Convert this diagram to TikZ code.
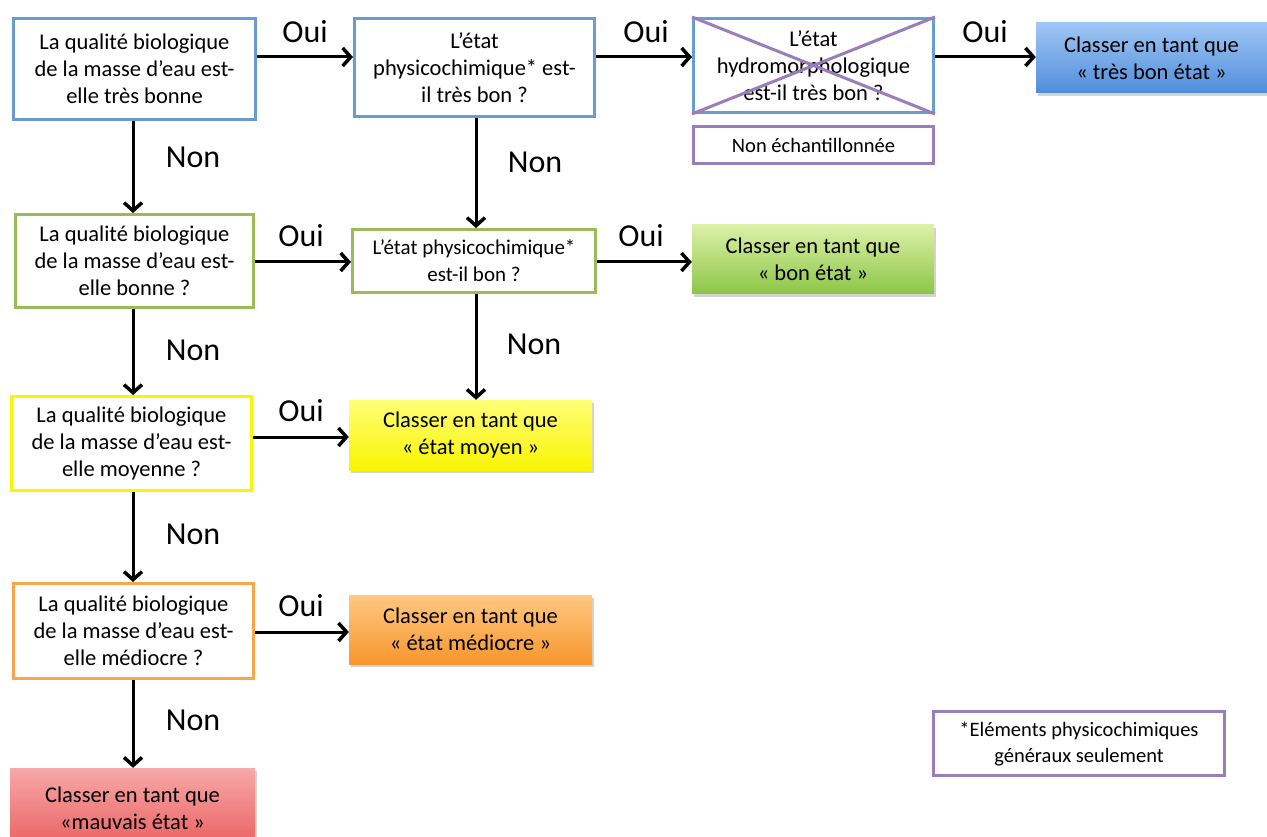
\documentclass[tikz,border=0pt]{standalone}
\usepackage{fontspec}
\setmainfont{Carlito}
\usetikzlibrary{arrows.meta,shadows}
\definecolor{blueline}{RGB}{108,155,207}
\definecolor{greenline}{RGB}{155,187,89}
\definecolor{yellowline}{RGB}{250,245,0}
\definecolor{orangeline}{RGB}{249,165,78}
\definecolor{purpline}{RGB}{154,125,187}
\definecolor{blueTop}{RGB}{160,198,245}
\definecolor{blueBot}{RGB}{80,142,218}
\definecolor{greenTop}{RGB}{221,240,168}
\definecolor{greenBot}{RGB}{140,198,70}
\definecolor{yellowTop}{RGB}{255,255,120}
\definecolor{yellowBot}{RGB}{248,244,0}
\definecolor{orangeTop}{RGB}{255,200,128}
\definecolor{orangeBot}{RGB}{247,150,46}
\definecolor{redTop}{RGB}{248,168,168}
\definecolor{redBot}{RGB}{233,96,96}
\tikzset{
  qbox/.style={draw, line width=3pt, fill=white, align=center, inner sep=0pt,
    font=\fontsize{22.5}{27}\selectfont},
  rbox/.style={align=center, inner sep=0pt, font=\fontsize{22.5}{27}\selectfont,
    drop shadow={shadow xshift=2pt, shadow yshift=-3pt, opacity=0.35}},
  arr/.style={line width=3pt, -{Straight Barb[length=8pt,width=18pt,line width=3.5pt]}},
  lbl/.style={font=\fontsize{32}{36}\selectfont, inner sep=0pt},
}
\begin{document}
\begin{tikzpicture}[x=1pt,y=-1pt]
\useasboundingbox (0,0) rectangle (1267,837);
% y-levels and x-columns for connectors
\coordinate (r1) at (0,57);
\coordinate (r2) at (0,262);
\coordinate (r3) at (0,437);
\coordinate (r4) at (0,632);
\coordinate (c1) at (133,0);
\coordinate (c2) at (476,0);

% Row 1
\node[qbox, draw=blueline, minimum width=242pt, minimum height=101pt] (B1) at (134.5,69)
  {La qualité biologique\\de la masse d’eau est-\\elle très bonne};
\node[qbox, draw=blueline, minimum width=240pt, minimum height=98pt] (B2) at (474.5,67.5)
  {L’état\\physicochimique* est-\\il très bon ?};
\node[qbox, draw=blueline, minimum width=240pt, minimum height=94pt] (B3) at (813.5,65.5)
  {L’état\\hydromorphologique\\est-il très bon ?};
\draw[purpline, line width=3pt] (B3.north west) -- (B3.south east);
\draw[purpline, line width=3pt] (B3.south west) -- (B3.north east);
\node[qbox, draw=purpline, minimum width=240pt, minimum height=37pt,
  font=\fontsize{20.5}{25}\selectfont] (NE) at (813.5,145) {Non échantillonnée};
\node[rbox, top color=blueTop, bottom color=blueBot, minimum width=231pt, minimum height=70pt]
  (B4) at (1151.5,58) {Classer en tant que\\« très bon état »};

% Row 2
\node[qbox, draw=greenline, minimum width=238pt, minimum height=93pt] (G1) at (134.5,261)
  {La qualité biologique\\de la masse d’eau est-\\elle bonne ?};
\node[qbox, draw=greenline, minimum width=243pt, minimum height=63pt,
  font=\fontsize{21}{27}\selectfont] (G2) at (474,261)
  {L’état physicochimique*\\est-il bon ?};
\node[rbox, top color=greenTop, bottom color=greenBot, minimum width=242pt, minimum height=69pt]
  (G3) at (813,259.5) {Classer en tant que\\« bon état »};

% Row 3
\node[qbox, draw=yellowline, minimum width=240pt, minimum height=94pt] (Y1) at (131.5,443.5)
  {La qualité biologique\\de la masse d’eau est-\\elle moyenne ?};
\node[rbox, top color=yellowTop, bottom color=yellowBot, minimum width=243pt, minimum height=70pt]
  (Y2) at (470.5,435) {Classer en tant que\\« état moyen »};

% Row 4
\node[qbox, draw=orangeline, minimum width=240pt, minimum height=95pt] (O1) at (133.5,631)
  {La qualité biologique\\de la masse d’eau est-\\elle médiocre ?};
\node[rbox, top color=orangeTop, bottom color=orangeBot, minimum width=243pt, minimum height=69pt]
  (O2) at (470.5,629.5) {Classer en tant que\\« état médiocre »};

% Row 5
\node[rbox, top color=redTop, bottom color=redBot, minimum width=245pt, minimum height=80pt]
  (R) at (132.5,808) {Classer en tant que\\«mauvais état »};

% Note
\node[qbox, draw=purpline, minimum width=291pt, minimum height=64pt,
  font=\fontsize{20.5}{26}\selectfont] (N) at (1079,743.5)
  {*Eléments physicochimiques\\généraux seulement};

% Oui connectors
\draw[arr] (B1.east |- r1) -- (B2.west |- r1);
\draw[arr] (B2.east |- r1) -- (B3.west |- r1);
\draw[arr] (B3.east |- r1) -- (B4.west |- r1);
\draw[arr] (G1.east |- r2) -- (G2.west |- r2);
\draw[arr] (G2.east |- r2) -- (G3.west |- r2);
\draw[arr] (Y1.east |- r3) -- (Y2.west |- r3);
\draw[arr] (O1.east |- r4) -- (O2.west |- r4);

% Non connectors
\draw[arr] (c1 |- B1.south) -- (c1 |- G1.north);
\draw[arr] (c1 |- G1.south) -- (c1 |- Y1.north);
\draw[arr] (c1 |- Y1.south) -- (c1 |- O1.north);
\draw[arr] (c1 |- O1.south) -- (c1 |- R.north);
\draw[arr] (c2 |- B2.south) -- (c2 |- G2.north);
\draw[arr] (c2 |- G2.south) -- (c2 |- Y2.north);

% Labels
\node[lbl] (l1) at (305,32) {Oui};
\node[lbl] (l2) at (646,32) {Oui};
\node[lbl] (l3) at (985,32) {Oui};
\node[lbl] (l4) at (301,236) {Oui};
\node[lbl] (l5) at (641,236) {Oui};
\node[lbl] (l6) at (301,411) {Oui};
\node[lbl] (l7) at (301,606) {Oui};
\node[lbl] (n1) at (193,157) {Non};
\node[lbl] (n2) at (535,162) {Non};
\node[lbl] (n3) at (193,350) {Non};
\node[lbl] (n4) at (534,344) {Non};
\node[lbl] (n5) at (193,534) {Non};
\node[lbl] (n6) at (193,720) {Non};
\end{tikzpicture}
\end{document}
